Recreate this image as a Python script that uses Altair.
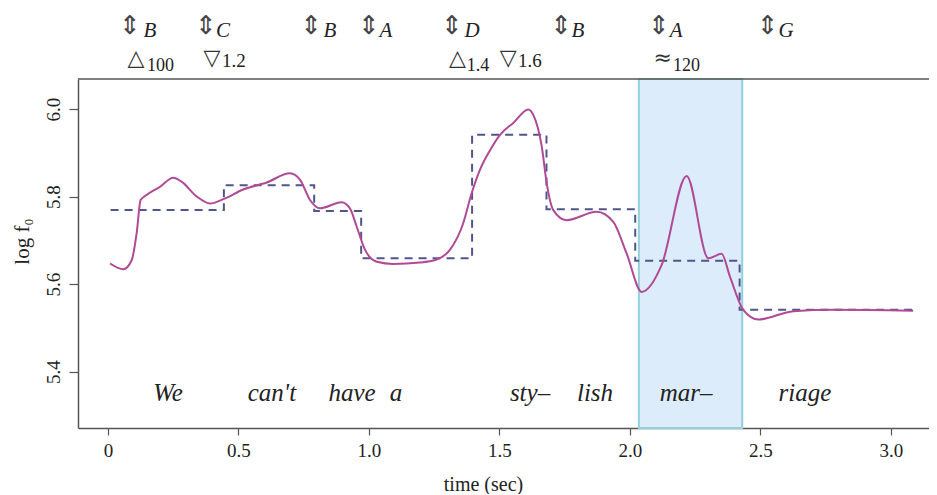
import altair as alt
import pandas as pd

# ---- data ----
curve_t = [0.008, 0.059, 0.091, 0.110, 0.125, 0.142, 0.199, 0.250, 0.282, 0.340, 0.391, 0.442,
           0.518, 0.608, 0.697, 0.736, 0.774, 0.812, 0.895, 0.927, 0.953, 0.985, 1.030, 1.093,
           1.195, 1.259, 1.310, 1.361, 1.393, 1.425, 1.464, 1.502, 1.556, 1.610, 1.630, 1.662,
           1.681, 1.706, 1.757, 1.872, 1.936, 1.987, 2.045, 2.121, 2.217, 2.300, 2.351, 2.383,
           2.434, 2.492, 2.626, 2.779, 3.085]
curve_v = [5.647, 5.634, 5.655, 5.717, 5.792, 5.801, 5.822, 5.843, 5.834, 5.800, 5.784, 5.794,
           5.816, 5.832, 5.853, 5.838, 5.792, 5.773, 5.787, 5.773, 5.731, 5.678, 5.651, 5.646,
           5.649, 5.656, 5.678, 5.739, 5.807, 5.861, 5.906, 5.941, 5.970, 5.999, 5.986, 5.914,
           5.830, 5.769, 5.746, 5.765, 5.742, 5.670, 5.582, 5.643, 5.847, 5.659, 5.669, 5.617,
           5.541, 5.519, 5.538, 5.541, 5.539]

step_t = [0.01, 0.444, 0.79, 0.97, 1.395, 1.68, 2.02, 2.42, 3.085]
step_v = [5.769, 5.826, 5.767, 5.659, 5.941, 5.771, 5.653, 5.541, 5.541]

shade_start = [2.034]
shade_end = [2.43]

words = ["We", "can't", "have", "a", "sty\u2013", "lish", "mar\u2013", "riage"]
word_t = [0.230, 0.628, 0.935, 1.103, 1.617, 1.866, 2.215, 2.670]
word_level = [5.352] * len(words)

arrow_t = [0.084, 0.375, 0.778, 1.000, 1.318, 1.736, 2.111, 2.527]
letters = ["B", "C", "B", "A", "D", "B", "A", "G"]
letter_t = [0.136, 0.414, 0.826, 1.040, 1.366, 1.776, 2.152, 2.569]

sym_text = ["\u25B3", "\u25BD", "\u25B3", "\u25BD", "\u2248"]
sym_t = [0.107, 0.398, 1.339, 1.533, 2.125]
sub_text = ["100", "1.4", "120"]
sub_t = [0.149, 1.375, 2.165]
inl_text = ["1.2", "1.6"]
inl_t = [0.437, 1.571]

x_ticks = [0, 0.5, 1.0, 1.5, 2.0, 2.5, 3.0]
y_ticks = [5.4, 5.6, 5.8, 6.0]

# ---- layout ----
W, H = 851, 349
XDOM = [-0.1149, 3.1456]
YDOM = [5.271, 6.0686]
SERIF = "Liberation Serif"
GREY = "#555555"

xs = alt.Scale(domain=XDOM, nice=False, zero=False)
ys = alt.Scale(domain=YDOM, nice=False, zero=False)

curve_df = pd.DataFrame({"t": curve_t, "v": curve_v})
step_df = pd.DataFrame({"t": step_t, "v": step_v})
shade_df = pd.DataFrame({"t0": shade_start, "t1": shade_end})
word_df = pd.DataFrame({"w": words, "t": word_t, "v": word_level})
arrow_df = pd.DataFrame({"t": arrow_t, "s": ["\u21D5"] * len(arrow_t)})
letter_df = pd.DataFrame({"t": letter_t, "s": letters})
sym_df = pd.DataFrame({"t": sym_t, "s": sym_text})
sub_df = pd.DataFrame({"t": sub_t, "s": sub_text})
inl_df = pd.DataFrame({"t": inl_t, "s": inl_text})

x_axis = alt.Axis(values=x_ticks, labelExpr="datum.value == 0 ? '0' : format(datum.value, '.1f')",
                  grid=False, domainColor=GREY, domainWidth=1.5, tickColor=GREY, tickWidth=1.2,
                  tickSize=7, labelPadding=6, labelFont=SERIF, labelFontSize=19, labelColor="#222",
                  title="time (sec)", titleFont=SERIF, titleFontSize=20, titleFontWeight="normal",
                  titleColor="#222", titleX=405, titleY=56, titleBaseline="middle", titleAlign="center")
y_axis = alt.Axis(values=y_ticks, format=".1f", grid=False, domainColor=GREY, domainWidth=1.5,
                  tickColor=GREY, tickWidth=1.2, tickSize=9, labelAngle=270, labelAlign="center",
                  labelBaseline="bottom", labelPadding=6, labelFont=SERIF, labelFontSize=19,
                  labelColor="#222", title="log f\u2080", titleFont=SERIF, titleFontSize=21,
                  titleFontWeight="normal", titleColor="#222", titleX=-56, titleY=162,
                  titleAngle=270, titleBaseline="middle", titleAlign="center")

shade = alt.Chart(shade_df).mark_rect(fill="#dcecfa", stroke="#94d0dc", strokeWidth=2).encode(
    x=alt.X("t0:Q", scale=xs, axis=x_axis), x2="t1:Q",
    y=alt.value(0), y2=alt.value(H))

step = alt.Chart(step_df).mark_line(interpolate="step-after", color="#50558c", strokeWidth=2,
                                    strokeDash=[8, 6]).encode(
    x=alt.X("t:Q", scale=xs), y=alt.Y("v:Q", scale=ys, axis=y_axis))

curve = alt.Chart(curve_df).mark_line(interpolate="monotone", color="#b04a96", strokeWidth=2).encode(
    x=alt.X("t:Q", scale=xs), y=alt.Y("v:Q", scale=ys))

word_layer = alt.Chart(word_df).mark_text(font=SERIF, fontSize=25, fontStyle="italic",
                                          color="#222", baseline="middle", align="center").encode(
    x=alt.X("t:Q", scale=xs), y=alt.Y("v:Q", scale=ys), text="w:N")

arrows = alt.Chart(arrow_df).mark_text(font="DejaVu Sans", fontSize=26, color="#444",
                                       baseline="middle", align="center").encode(
    x=alt.X("t:Q", scale=xs), y=alt.value(-53), text="s:N")
letter_layer = alt.Chart(letter_df).mark_text(font=SERIF, fontSize=21, fontStyle="italic",
                                              color="#222", baseline="middle", align="left").encode(
    x=alt.X("t:Q", scale=xs), y=alt.value(-48), text="s:N")
syms = alt.Chart(sym_df).mark_text(font="DejaVu Sans", fontSize=22, color="#333",
                                   baseline="middle", align="center").encode(
    x=alt.X("t:Q", scale=xs), y=alt.value(-21), text="s:N")
subs = alt.Chart(sub_df).mark_text(font=SERIF, fontSize=18, color="#222",
                                   baseline="middle", align="left").encode(
    x=alt.X("t:Q", scale=xs), y=alt.value(-13), text="s:N")
inls = alt.Chart(inl_df).mark_text(font=SERIF, fontSize=19, color="#222",
                                   baseline="middle", align="left").encode(
    x=alt.X("t:Q", scale=xs), y=alt.value(-18), text="s:N")

top_border = alt.Chart(shade_df).mark_rule(color=GREY, strokeWidth=1.5).encode(
    x=alt.value(0), x2=alt.value(W), y=alt.value(0))

chart = alt.layer(shade, step, curve, word_layer, arrows, letter_layer, syms, subs, inls,
                  top_border).properties(
    width=W, height=H,
    padding={"left": 70, "top": 71, "right": 0, "bottom": 66},
    autosize=alt.AutoSizeParams(type="none"),
    background="white",
).configure_view(stroke=None)

chart.save("out.html", embed_options={"renderer": "svg", "actions": False})
